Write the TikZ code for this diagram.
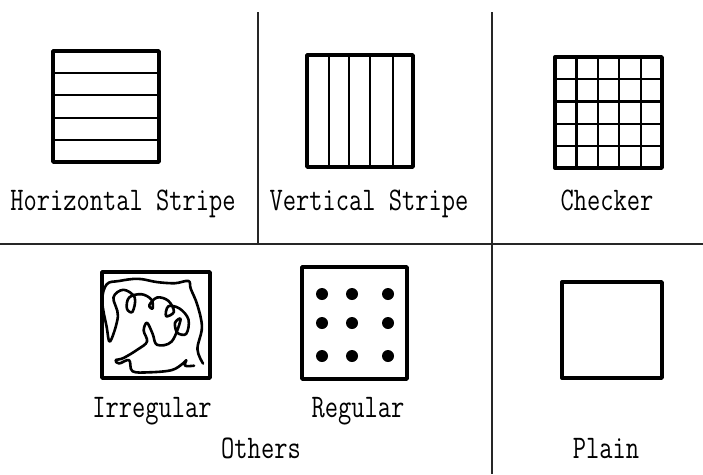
\documentclass[tikz,border=0pt]{standalone}
\usepackage{graphicx}
\newcommand\monolbl[1]{\scalebox{0.78}[1]{#1}}
\tikzset{
  divider/.style={line width=1.5pt, black!85},
  frame/.style={line width=3.4pt, line join=round},
  inner/.style={line width=2.2pt},
  lbl/.style={anchor=base, inner sep=0pt, font=\fontsize{33}{36}\selectfont\ttfamily},
  scrib/.style={line width=2.6pt, line cap=round, line join=round},
}
\begin{document}
\begin{tikzpicture}[x=1pt,y=-1pt]
\useasboundingbox (0,0) rectangle (703,474);
% dividers
\coordinate (d1t) at (258,12); \coordinate (d1b) at (258,244);
\coordinate (d2t) at (492,12); \coordinate (d2b) at (492,474);
\coordinate (hl) at (0,244); \coordinate (hr) at (703,244);
\draw[divider] (d1t) -- (d1b);
\draw[divider] (d2t) -- (d2b);
\draw[divider] (hl) -- (hr);
% horizontal stripe
\foreach \y in {73,95,118,140} \draw[inner] (53,\y) -- (159,\y);
\draw[frame] (53,51) rectangle (159,162);
% vertical stripe
\foreach \x in {329,349,370,393} \draw[inner] (\x,55) -- (\x,167);
\draw[frame] (307,55) rectangle (413,167);
% checker
\foreach \x in {576.4,597.8,619.2,640.6} \draw[inner] (\x,57) -- (\x,168);
\foreach \y in {79.2,101.4,123.6,145.8} \draw[inner] (555,\y) -- (662,\y);
\draw[frame] (555,57) rectangle (662,168);
% irregular
\draw[frame] (102,272) rectangle (210,378);
\begin{scope}[shift={(156,325)}, xscale=1.12, yscale=1.1, shift={(-156,-325)}]
\draw[scrib] plot[smooth, tension=0.6] coordinates {
 (198,360) (193,347) (197,327) (193,307) (187,292) (185,285)
 (173,287) (157,286) (140,283) (123,285) (112,288)
 (108,303) (112,327) (115,340)
 (122,317) (118,300) (127,293) (137,300) (135,313) (130,310) (132,300)
 (143,297) (152,302) (153,310) (150,307) (157,300) (167,303) (172,313)
 (165,317) (167,308) (177,310) (185,320) (183,333) (175,332) (173,323)
 (178,320) (170,340) (157,343) (153,333) (148,323) (145,330) (148,340)
 (140,347) (127,355) (120,357) (123,360) (132,357) (135,367) (150,368)
 (170,366) (180,360) (183,357) (182,362) (190,362)};
\end{scope}
% regular
\draw[frame] (302,267) rectangle (407,379);
\foreach \x in {322,352,388} \foreach \y in {294,323,356} \fill (\x,\y) circle (6pt);
% plain
\draw[frame] (562,282) rectangle (662,378);
% labels
\node[lbl] (lh) at (123,210) {\monolbl{Horizontal Stripe}};
\node[lbl] (lv) at (369,210) {\monolbl{Vertical Stripe}};
\node[lbl] (lc) at (607,210) {\monolbl{Checker}};
\node[lbl] (li) at (152,417) {\monolbl{Irregular}};
\node[lbl] (lr) at (358,417) {\monolbl{Regular}};
\node[lbl] (lo) at (261,458) {\monolbl{Others}};
\node[lbl] (lp) at (606,458) {\monolbl{Plain}};
\end{tikzpicture}
\end{document}
